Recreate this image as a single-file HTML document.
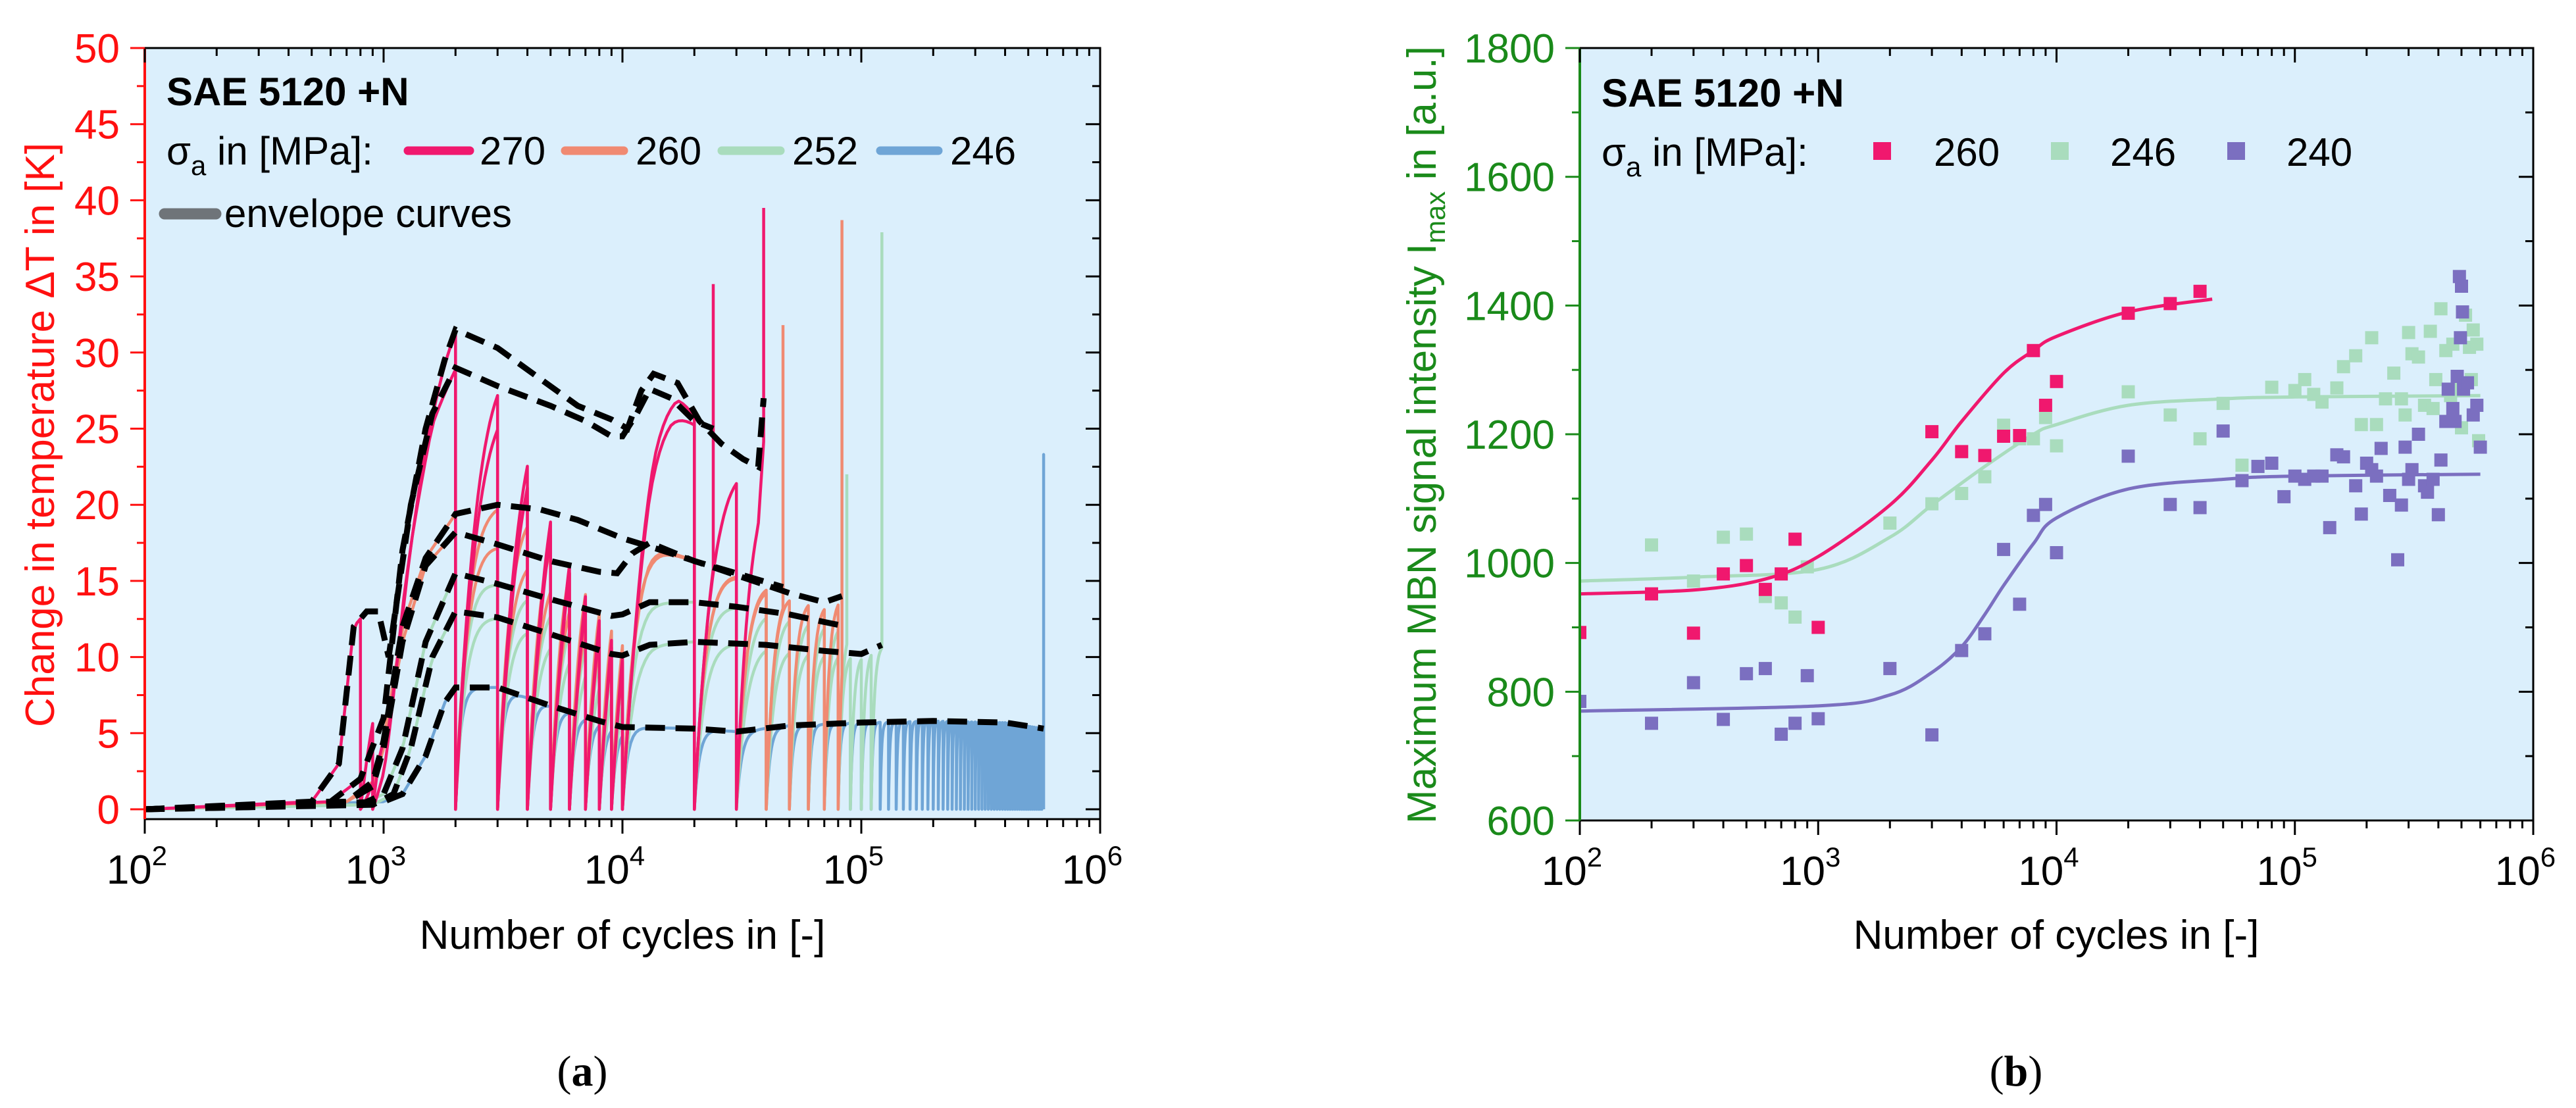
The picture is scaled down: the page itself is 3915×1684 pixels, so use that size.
<!DOCTYPE html>
<html><head><meta charset="utf-8"><style>
html,body{margin:0;padding:0;background:#fff;}
svg{display:block;font-family:"Liberation Sans",Arial,sans-serif;}
</style></head><body>
<svg id="fig" width="3915" height="1684" viewBox="0 0 3915 1684" xmlns="http://www.w3.org/2000/svg">
<defs>
<clipPath id="clipA"><rect x="220" y="73" width="1452" height="1172"/></clipPath>
<clipPath id="clipB"><rect x="2401" y="73" width="1449" height="1174"/></clipPath>
</defs>
<rect x="220" y="73" width="1452" height="1172" fill="#dbeffc"/>
<rect x="2401" y="73" width="1449" height="1174" fill="#dbeffc"/>
<g id="gA" clip-path="url(#clipA)"></g>
<g id="gAenv" clip-path="url(#clipA)"></g>
<g id="gB" clip-path="url(#clipB)"></g>
<g id="axA"></g>
<g id="axB"></g>

<g>
<text x="253" y="160" font-size="60" font-weight="bold">SAE 5120 +N</text>
<text x="253" y="250" font-size="60">σ<tspan font-size="42" dy="16">a</tspan><tspan dy="-16"> in [MPa]:</tspan></text>
<line x1="620" y1="229" x2="714" y2="229" stroke="#f0186e" stroke-width="13" stroke-linecap="round"/>
<text x="729" y="250" font-size="60">270</text>
<line x1="859" y1="229" x2="948" y2="229" stroke="#f08a72" stroke-width="13" stroke-linecap="round"/>
<text x="966" y="250" font-size="60">260</text>
<line x1="1097" y1="229" x2="1186" y2="229" stroke="#a9dcbd" stroke-width="13" stroke-linecap="round"/>
<text x="1204" y="250" font-size="60">252</text>
<line x1="1338" y1="229" x2="1426" y2="229" stroke="#6fa5d6" stroke-width="13" stroke-linecap="round"/>
<text x="1444" y="250" font-size="60">246</text>
<line x1="250" y1="325" x2="328" y2="325" stroke="#6f7479" stroke-width="17" stroke-linecap="round"/>
<text x="341" y="345" font-size="60">envelope curves</text>
</g>

<g>
<text x="2434" y="162" font-size="60" font-weight="bold">SAE 5120 +N</text>
<text x="2434" y="252" font-size="60">σ<tspan font-size="42" dy="16">a</tspan><tspan dy="-16"> in [MPa]:</tspan></text>
<rect x="2847" y="216" width="27" height="27" fill="#f0186e"/>
<text x="2939" y="252" font-size="60">260</text>
<rect x="3117" y="216" width="27" height="27" fill="#a9dcbd"/>
<text x="3207" y="252" font-size="60">246</text>
<rect x="3385" y="216" width="27" height="27" fill="#7b6fc0"/>
<text x="3475" y="252" font-size="60">240</text>
</g>

<text x="946" y="1442" font-size="62" text-anchor="middle">Number of cycles in [-]</text>
<text x="3125" y="1442" font-size="62" text-anchor="middle">Number of cycles in [-]</text>
<text transform="translate(82,661) rotate(-90)" font-size="62" text-anchor="middle" fill="#ff1010">Change in temperature ΔT in [K]</text>
<text transform="translate(2182,661) rotate(-90)" font-size="62" text-anchor="middle" fill="#1a8a1a">Maximum MBN signal intensity I<tspan font-size="42" dy="14">max</tspan><tspan dy="-14"> in [a.u.]</tspan></text>
<text x="885" y="1650" font-size="66" text-anchor="middle" font-family="Liberation Serif, serif">(<tspan font-weight="bold">a</tspan>)</text>
<text x="3064" y="1650" font-size="66" text-anchor="middle" font-family="Liberation Serif, serif">(<tspan font-weight="bold">b</tspan>)</text>
</svg>
<script>
// ---------- Plot (a) data ----------
const envSpecimens = ["270a","270b","260a","260b","252a","252b","246"];
const env270a = [[100,0],[500,0.5],[650,3],[750,12],[850,13],[950,13],[1050,10],[1300,20],[1600,26],[2000,29],[3000,27.8],[5000,26.5],[7000,25.5],[9000,24.5],[10000,24.5],[11500,26],[13000,27.6],[16000,27],[20000,25.5],[24000,25]];
const env270b = [[100,0],[600,0.5],[800,2],[1000,6],[1200,17],[1500,25],[1800,29.5],[2000,31.5],[3000,30.3],[4500,28.3],[6500,26.5],[9000,25.6],[10500,25],[12000,27.5],[13500,28.6],[17000,28],[21000,25.5],[26000,24],[32000,23],[37000,22.5],[39000,27]];
const env260a = [[100,0],[700,0.5],[900,1.5],[1000,4],[1200,11],[1500,16],[2000,18.2],[3000,17.4],[5000,16.3],[8000,15.6],[9500,15.5],[11000,16.8],[13000,17.5],[20000,16.3],[30000,15.5],[47000,14.6]];
const env260b = [[100,0],[700,0.5],[900,1.8],[1000,4.5],[1200,12],[1500,16.5],[2000,19.4],[3000,20],[4500,19.7],[6500,19],[10000,17.8],[14000,17.1],[21000,16.2],[31000,15.3],[50000,14.2],[70000,13.6],[83000,14]];
const env252a = [[100,0],[800,0.3],[1000,1],[1200,4],[1500,11],[2000,15.5],[3000,14.8],[5000,13.8],[9000,12.7],[10000,12.8],[13000,13.6],[20000,13.6],[30000,13.3],[50000,12.8],[70000,12.3],[87000,12]];
const env252b = [[100,0],[900,0.3],[1100,1],[1300,4],[1600,10],[2000,13],[3000,12.6],[5000,11.5],[9000,10.2],[10000,10.1],[13000,10.8],[20000,11],[40000,10.8],[70000,10.4],[100000,10.2],[122000,10.8]];
const env246 = [[100,0],[1000,0.5],[1200,1],[1500,3.5],[1800,7],[2000,8],[3000,8],[5000,6.8],[8000,5.8],[10000,5.4],[20000,5.3],[30000,5.1],[50000,5.5],[100000,5.7],[200000,5.8],[400000,5.7],[580000,5.3]];
const spikes = [34.5,39.5,31.8,38.7,22,37.9,23.3];
const resets270 = [800,900,2000,3000,4000,5000,6000,7000,8000,9000,10000,20000,30000];
const resets260 = [2000,3000,4000,5000,6000,7000,8000,9000,10000,20000,30000,40000,50000,60000,70000,80000];
const resets252 = [2000,3000,4000,5000,6000,7000,8000,9000,10000,20000,30000,40000,50000,60000,70000,80000,90000,100000,110000];
const resets246 = [2000,3000,4000,5000,6000,7000,8000,9000,10000,20000,30000,40000,50000,60000,70000,80000,90000,100000,110000,120000,130000,140000,150000,160000,170000,180000,190000,200000,210000,220000,230000,240000,250000,260000,270000,280000,290000,300000,310000,320000,330000,340000,350000,360000,370000,380000,390000,400000,410000,420000,430000,440000,450000,460000,470000,480000,490000,500000,510000,520000,530000,540000,550000,560000,570000];
const yTicksA = [0,5,10,15,20,25,30,35,40,45,50];
const xTickExp = [2,3,4,5,6];

// ---------- Plot (b) data ----------
const pts260 = [[100,892],[200,952],[300,891],[400,983],[500,996],[600,959],[700,983],[800,1037],[1000,900],[3000,1204],[4000,1173],[5000,1167],[6000,1197],[7000,1198],[8000,1330],[9000,1245],[10000,1282],[20000,1388],[30000,1403],[40000,1422]];
const fit260 = [[100,952],[300,958],[600,975],[1000,1010],[2000,1090],[3000,1160],[4000,1220],[6000,1295],[8000,1330],[10000,1352],[20000,1390],[45000,1410]];
const pts246 = [[200,1028],[300,972],[400,1040],[500,1045],[600,948],[700,938],[800,916],[900,994],[2000,1062],[3000,1092],[4000,1108],[5000,1134],[6000,1214],[7000,1193],[8000,1193],[9000,1226],[10000,1182],[20000,1266],[30000,1230],[40000,1193],[50000,1248],[60000,1152],[70000,1150],[80000,1273],[100000,1268],[110000,1285],[120000,1262],[130000,1250],[150000,1272],[160000,1305],[180000,1322],[190000,1215],[210000,1350],[220000,1215],[240000,1255],[260000,1295],[280000,1255],[290000,1230],[300000,1358],[310000,1325],[330000,1320],[350000,1245],[370000,1360],[380000,1240],[390000,1285],[410000,1395],[430000,1330],[450000,1260],[460000,1340],[480000,1280],[500000,1210],[520000,1385],[540000,1335],[550000,1285],[560000,1362],[580000,1340],[590000,1190]];
const fit246 = [[100,972],[300,978],[1000,990],[2000,1040],[3000,1090],[5000,1150],[8000,1200],[10000,1215],[20000,1245],[50000,1255],[100000,1258],[600000,1260]];
const pts240 = [[100,785],[200,751],[300,814],[400,757],[500,828],[600,836],[700,734],[800,751],[900,825],[1000,758],[2000,836],[3000,733],[4000,864],[5000,890],[6000,1021],[7000,936],[8000,1074],[9000,1091],[10000,1016],[20000,1166],[30000,1091],[40000,1086],[50000,1205],[60000,1128],[70000,1150],[80000,1155],[90000,1103],[100000,1135],[110000,1130],[120000,1135],[130000,1135],[140000,1055],[150000,1168],[160000,1165],[180000,1120],[190000,1076],[200000,1155],[210000,1145],[220000,1135],[230000,1178],[250000,1105],[270000,1005],[280000,1090],[290000,1180],[300000,1130],[310000,1145],[330000,1200],[350000,1120],[360000,1110],[380000,1130],[400000,1075],[410000,1160],[430000,1220],[440000,1270],[460000,1240],[470000,1220],[480000,1290],[490000,1445],[495000,1350],[500000,1430],[505000,1390],[510000,1270],[530000,1280],[560000,1230],[580000,1245],[600000,1180]];
const fit240 = [[100,770],[1000,778],[2000,795],[3000,830],[4000,870],[5000,920],[6000,965],[8000,1030],[10000,1070],[20000,1115],[50000,1130],[100000,1135],[600000,1138]];
const yTicksB = [600,800,1000,1200,1400,1600,1800];

// ---------- helpers ----------
const NS = "http://www.w3.org/2000/svg";
function mk(parent, tag, attrs){const e=document.createElementNS(NS,tag);for(const k in attrs)e.setAttribute(k,attrs[k]);parent.appendChild(e);return e;}
const xa = n => 220 + (Math.log10(n)-2)*363;
const ya = v => 1230 - v*23.14;
const xb = n => 2401 + (Math.log10(n)-2)*362.25;
const yb = v => 1247 - (v-600)*0.9783;
function envAt(env, n){
  const l=Math.log10(n);
  if(n<=env[0][0]) return env[0][1];
  for(let i=1;i<env.length;i++){
    if(n<=env[i][0]){const l0=Math.log10(env[i-1][0]),l1=Math.log10(env[i][0]);const t=(l-l0)/(l1-l0);return env[i-1][1]+t*(env[i][1]-env[i-1][1]);}
  }
  return env[env.length-1][1];
}
function smoothPath(P){
  let d="M"+P[0][0].toFixed(1)+","+P[0][1].toFixed(1);
  for(let i=0;i<P.length-1;i++){
    const p0=P[Math.max(0,i-1)],p1=P[i],p2=P[i+1],p3=P[Math.min(P.length-1,i+2)];
    const c1x=p1[0]+(p2[0]-p0[0])/6,c1y=p1[1]+(p2[1]-p0[1])/6;
    const c2x=p2[0]-(p3[0]-p1[0])/6,c2y=p2[1]-(p3[1]-p1[1])/6;
    d+="C"+c1x.toFixed(1)+","+c1y.toFixed(1)+" "+c2x.toFixed(1)+","+c2y.toFixed(1)+" "+p2[0].toFixed(1)+","+p2[1].toFixed(1);
  }
  return d;
}

// ---------- draw plot a ----------
const gA=document.getElementById('gA'), gAenv=document.getElementById('gAenv');
const specs=[
 {env:env270a,res:resets270,col:"#f0186e",tau:0.22,cap:4000},
 {env:env270b,res:resets270,col:"#f0186e",tau:0.22,cap:4000},
 {env:env260a,res:resets260,col:"#f08a72",tau:0.12,cap:3000},
 {env:env260b,res:resets260,col:"#f08a72",tau:0.12,cap:3000},
 {env:env252a,res:resets252,col:"#a9dcbd",tau:0.1,cap:3000},
 {env:env252b,res:resets252,col:"#a9dcbd",tau:0.1,cap:3000},
 {env:env246,res:resets246,col:"#6fa5d6",tau:0.05,cap:1500}
];
const order=[6,4,5,2,3,0,1];
order.forEach(si=>{
  const s=specs[si];const end=s.env[s.env.length-1][0];
  const rs=s.res.filter(r=>r<end);
  let d=""; let first=true;
  function P(n,v){d+=(first?"M":"L")+xa(n).toFixed(1)+","+ya(v).toFixed(1);first=false;}
  const start=s.env[0][0];
  const firstR=rs.length?rs[0]:end;
  for(let i=0;i<=60;i++){const n=start*Math.pow(firstR/start,i/60);P(n,envAt(s.env,n));}
  rs.forEach((r,k)=>{
    const nx=k+1<rs.length?rs[k+1]:end;
    P(r,0);
    const tc=Math.min(s.tau*r,s.cap);
    const steps=24;
    for(let i=1;i<=steps;i++){const n=r+(nx-r)*Math.pow(i/steps,1.8);P(n,envAt(s.env,n)*(1-Math.exp(-(n-r)/tc)));}
  });
  P(end,spikes[si]);
  if(si===6) P(end,0);
  const p=mk(gA,"path",{d:d,fill:"none",stroke:s.col,"stroke-width":4.5,"stroke-linejoin":"round"});
  
  
  let e="";
  s.env.forEach((pt,i)=>{e+=(i?"L":"M")+xa(pt[0]).toFixed(1)+","+ya(pt[1]).toFixed(1);});
  const ep=mk(gAenv,"path",{d:e,fill:"none",stroke:"#000","stroke-width":9,"stroke-dasharray":"30 16"});
  
  
});

// ---------- draw plot b ----------
const gB=document.getElementById('gB');
function drawSeries(pts,fit,col,name){
  const d=smoothPath(fit.map(pt=>[xb(pt[0]),yb(pt[1])]));
  const f=mk(gB,"path",{d:d,fill:"none",stroke:col,"stroke-width":5,"stroke-linejoin":"round"});
  
  
  pts.forEach(pt=>{
    const r=mk(gB,"rect",{x:(xb(pt[0])-10).toFixed(1),y:(yb(pt[1])-10).toFixed(1),width:20,height:20,fill:col});
    
    
  });
}
drawSeries(pts246,fit246,"#a9dcbd","246");
drawSeries(pts240,fit240,"#7b6fc0","240");
drawSeries(pts260,fit260,"#f0186e","260");

// ---------- axes ----------
function axes(g,x0,x1,y0,y1,xf,yTicks,yf,yMinorStep,leftCol,tickCol,nameP){
  const fr=mk(g,"rect",{x:x0,y:y0,width:x1-x0,height:y1-y0,fill:"none",stroke:"#000","stroke-width":3});
  
  
  const la=mk(g,"line",{x1:x0,y1:y0,x2:x0,y2:y1,stroke:leftCol,"stroke-width":4});
  
  
  xTickExp.forEach((ex,i)=>{
    const n=Math.pow(10,ex);const x=xf(n);
    mk(g,"line",{x1:x,y1:y1,x2:x,y2:y1+22,stroke:"#000","stroke-width":3});
    mk(g,"line",{x1:x,y1:y0,x2:x,y2:y0+22,stroke:"#000","stroke-width":3});
    const t=mk(g,"text",{x:x-12,y:y1+98,"font-size":62,"text-anchor":"middle"});
    
    
    t.innerHTML="10<tspan font-size='42' dy='-28'>"+ex+"</tspan>";
    if(i<xTickExp.length-1){for(let m=2;m<=9;m++){const xm=xf(m*n);
      mk(g,"line",{x1:xm,y1:y1,x2:xm,y2:y1+12,stroke:"#000","stroke-width":3});
      mk(g,"line",{x1:xm,y1:y0,x2:xm,y2:y0+12,stroke:"#000","stroke-width":3});}}
  });
  yTicks.forEach((v,i)=>{
    const y=yf(v);
    mk(g,"line",{x1:x0-22,y1:y,x2:x0,y2:y,stroke:tickCol,"stroke-width":3});
    mk(g,"line",{x1:x1-22,y1:y,x2:x1,y2:y,stroke:"#000","stroke-width":3});
    const t=mk(g,"text",{x:x0-38,y:y+22,"font-size":62,"text-anchor":"end",fill:tickCol});
    
    
    t.textContent=v;
    if(i<yTicks.length-1){const ym=yf(v+yMinorStep);
      mk(g,"line",{x1:x0-12,y1:ym,x2:x0,y2:ym,stroke:tickCol,"stroke-width":3});
      mk(g,"line",{x1:x1-12,y1:ym,x2:x1,y2:ym,stroke:"#000","stroke-width":3});}
  });
}
axes(document.getElementById('axA'),220,1672,73,1245,xa,yTicksA,ya,2.5,"#ff1010","#ff1010","plot-a");
axes(document.getElementById('axB'),2401,3850,73,1247,xb,yTicksB,yb,100,"#1a8a1a","#1a8a1a","plot-b");
</script>
</body></html>
